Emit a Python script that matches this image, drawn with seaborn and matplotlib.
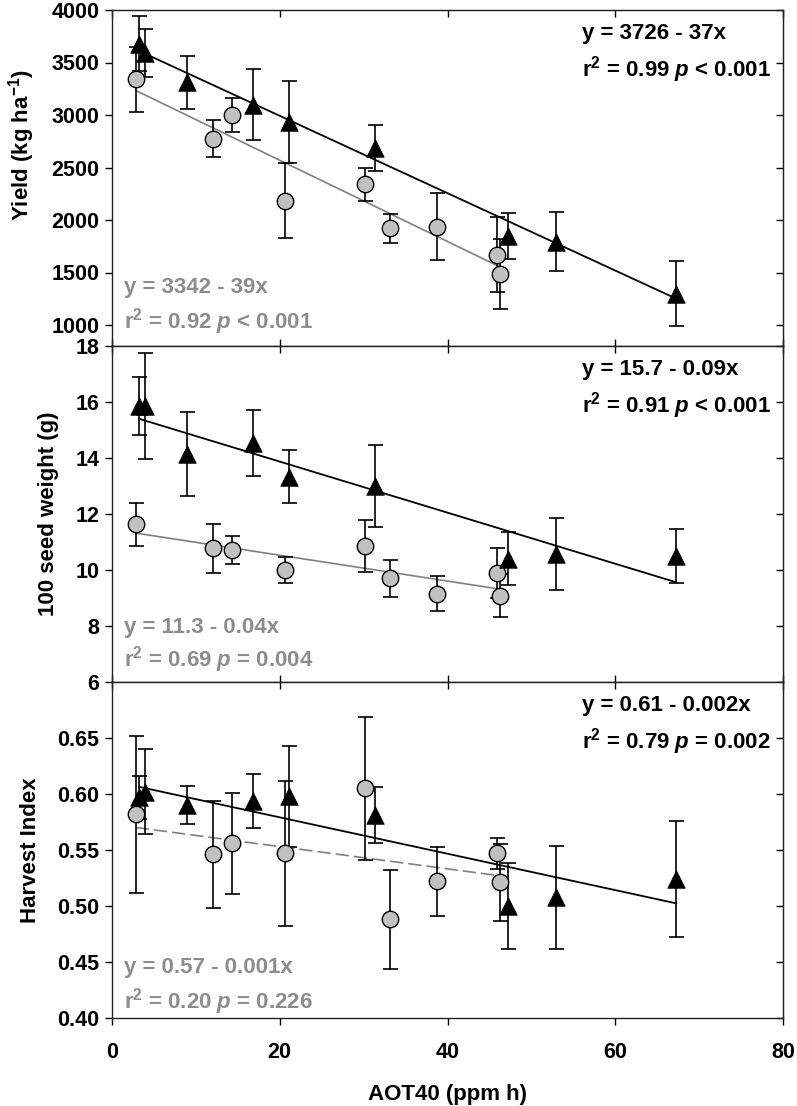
import numpy as np
import pandas as pd
import seaborn as sns
import matplotlib.pyplot as plt
from matplotlib.ticker import FormatStrFormatter

sns.set_style("ticks")
plt.rcParams['font.family'] = ['Liberation Sans', 'DejaVu Sans']
plt.rcParams['font.weight'] = 'bold'
plt.rcParams['mathtext.fontset'] = 'custom'
plt.rcParams['mathtext.rm'] = 'Liberation Sans:bold'
plt.rcParams['mathtext.it'] = 'Liberation Sans:italic:bold'
plt.rcParams['mathtext.bf'] = 'Liberation Sans:bold'
# plain black text and ticks, not seaborn's dark grey
for key in ['text.color', 'axes.labelcolor', 'xtick.color', 'ytick.color']:
    plt.rcParams[key] = 'black'

# AOT40 (ppm h) for the two groups (triangles / circles)
aot_tri = [3.25, 3.93, 9.0, 16.85, 21.1, 31.35, 47.2, 52.9, 67.3]
aot_circ = [2.82, 12.0, 14.26, 20.6, 30.2, 33.1, 38.8, 45.85, 46.25]

# yield (kg ha-1)
yield_tri = [3680, 3590, 3310, 3100, 2935, 2685, 1850, 1795, 1300]
yield_tri_err = [260, 225, 255, 340, 390, 220, 220, 280, 305]
yield_circ = [3340, 2775, 3000, 2185, 2340, 1920, 1935, 1670, 1485]
yield_circ_err = [310, 175, 165, 360, 160, 135, 320, 355, 330]

# 100 seed weight (g)
seed_tri = [15.85, 15.85, 14.15, 14.55, 13.33, 13.0, 10.4, 10.57, 10.5]
seed_tri_err = [1.04, 1.9, 1.5, 1.18, 0.95, 1.46, 0.95, 1.3, 0.97]
seed_circ = [11.63, 10.77, 10.71, 10.0, 10.85, 9.7, 9.16, 9.9, 9.08]
seed_circ_err = [0.76, 0.89, 0.5, 0.48, 0.93, 0.67, 0.64, 0.9, 0.76]

# harvest index
hi_tri = [0.597, 0.602, 0.590, 0.594, 0.598, 0.581, 0.500, 0.508, 0.524]
hi_tri_err = [0.019, 0.038, 0.017, 0.024, 0.045, 0.025, 0.038, 0.046, 0.052]
hi_circ = [0.582, 0.546, 0.556, 0.547, 0.605, 0.488, 0.522, 0.547, 0.521]
hi_circ_err = [0.070, 0.048, 0.045, 0.065, 0.064, 0.044, 0.031, 0.014, 0.034]

ylabels = ['Yield (kg ha$^{\\mathbf{-1}}$)', '100 seed weight (g)', 'Harvest Index']
ylims = [(800, 4000), (6, 18), (0.40, 0.70)]
yticks = [[1000, 1500, 2000, 2500, 3000, 3500, 4000],
          [6, 8, 10, 12, 14, 16, 18],
          [0.40, 0.45, 0.50, 0.55, 0.60, 0.65]]
eq_tri = [['y = 3726 - 37x', 'r$^{2}$ = 0.99 $p$ < 0.001'],
          ['y = 15.7 - 0.09x', 'r$^{2}$ = 0.91 $p$ < 0.001'],
          ['y = 0.61 - 0.002x', 'r$^{2}$ = 0.79 $p$ = 0.002']]
eq_circ = [['y = 3342 - 39x', 'r$^{2}$ = 0.92 $p$ < 0.001'],
           ['y = 11.3 - 0.04x', 'r$^{2}$ = 0.69 $p$ = 0.004'],
           ['y = 0.57 - 0.001x', 'r$^{2}$ = 0.20 $p$ = 0.226']]

tri_vals = [(yield_tri, yield_tri_err), (seed_tri, seed_tri_err), (hi_tri, hi_tri_err)]
circ_vals = [(yield_circ, yield_circ_err), (seed_circ, seed_circ_err), (hi_circ, hi_circ_err)]

grey_txt = '#8c8c8c'
grey_fill = '#c0c0c0'
grey_line = '#808080'

fig = plt.figure(figsize=(7.97, 11.06), dpi=100)
W, H = 797, 1106
left, right = 112, 783
tops = [10, 346, 682]
ph = 336
circ_txt_y = [(0.157, 0.053), (0.145, 0.046), (0.133, 0.029)]
ylab_pos = [(-0.112, 0.598), (-0.079, 0.5), (-0.106, 0.5)]

for i in range(3):
    ax = fig.add_axes([left / W, 1 - (tops[i] + ph) / H, (right - left) / W, ph / H])
    ty, te = tri_vals[i]
    cy, ce = circ_vals[i]

    # regression lines
    sns.regplot(x=aot_circ, y=cy, scatter=False, ci=None, truncate=True, ax=ax,
                color=grey_line,
                line_kws=dict(lw=1.2, ls=(0, (8, 3)) if i == 2 else '-', zorder=2))
    sns.regplot(x=aot_tri, y=ty, scatter=False, ci=None, truncate=True, ax=ax,
                color='black', line_kws=dict(lw=1.3, zorder=2))

    # error bars
    ax.errorbar(aot_circ, cy, yerr=ce, fmt='none', ecolor='black', elinewidth=1.2,
                capsize=5.4, capthick=1.2, zorder=3)
    ax.errorbar(aot_tri, ty, yerr=te, fmt='none', ecolor='black', elinewidth=1.2,
                capsize=5.4, capthick=1.2, zorder=3)

    # markers
    sns.scatterplot(x=aot_circ, y=cy, ax=ax, marker='o', s=140, color=grey_fill,
                    edgecolor='black', linewidth=1.0, zorder=4)
    sns.scatterplot(x=aot_tri, y=ty, ax=ax, marker='^', s=160, color='black',
                    edgecolor='black', linewidth=0.5, zorder=5)

    ax.set_xlim(0, 80)
    ax.set_ylim(*ylims[i])
    ax.set_xticks([0, 20, 40, 60, 80])
    ax.set_yticks(yticks[i])
    if i == 2:
        ax.yaxis.set_major_formatter(FormatStrFormatter('%.2f'))
        ax.set_xlabel('AOT40 (ppm h)', fontsize=16, fontweight='bold')
        ax.xaxis.label.set_va('top')
        ax.xaxis.set_label_coords(0.5, -0.197)
        ax.tick_params(axis='x', direction='out', length=5, width=1, pad=12,
                       labelsize=15.5)
    else:
        ax.tick_params(axis='x', direction='in', length=5, width=1, labelbottom=False)
    ax.tick_params(axis='y', direction='out', length=5, width=1, pad=4, labelsize=15.5)
    ax.set_ylabel(ylabels[i], fontsize=16, fontweight='bold')
    ax.yaxis.set_label_coords(*ylab_pos[i])
    for lab in ax.get_xticklabels() + ax.get_yticklabels():
        lab.set_fontweight('bold')

    # mirrored ticks, pointing inward
    sec_y = ax.secondary_yaxis('right')
    sec_y.set_yticks(yticks[i])
    sec_y.tick_params(direction='in', length=5, width=1, labelright=False)
    sec_x = ax.secondary_xaxis('top')
    sec_x.set_xticks([0, 20, 40, 60, 80])
    sec_x.tick_params(direction='in', length=5, width=1, labeltop=False)

    for sp in ax.spines.values():
        sp.set_linewidth(1.0)
        sp.set_color('#222222')

    ax.text(0.700, 0.913, eq_tri[i][0], transform=ax.transAxes, fontsize=16,
            fontweight='bold', color='black', va='baseline')
    ax.text(0.700, 0.8015, eq_tri[i][1], transform=ax.transAxes, fontsize=16,
            fontweight='bold', color='black', va='baseline')
    ax.text(0.018, circ_txt_y[i][0], eq_circ[i][0], transform=ax.transAxes,
            fontsize=16, fontweight='bold', color=grey_txt, va='baseline')
    ax.text(0.018, circ_txt_y[i][1], eq_circ[i][1], transform=ax.transAxes,
            fontsize=16, fontweight='bold', color=grey_txt, va='baseline')

fig.savefig('out.png', dpi=100)
